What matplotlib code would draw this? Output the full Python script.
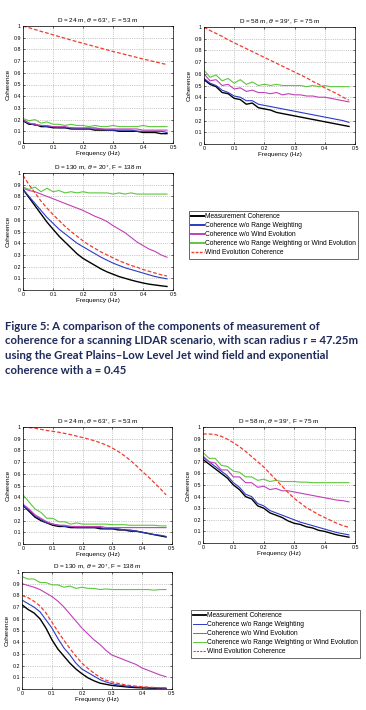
import matplotlib
matplotlib.use("Agg")
import matplotlib.pyplot as plt

W, H = 366, 710
plt.rcParams['font.family'] = ['Liberation Sans', 'DejaVu Sans']

# frequency grid (Hz)
freq = [0.00, 0.02, 0.04, 0.06, 0.08, 0.10, 0.12, 0.14, 0.16, 0.18, 0.20, 0.22, 0.24,
        0.26, 0.28, 0.30, 0.32, 0.34, 0.36, 0.38, 0.40, 0.42, 0.44, 0.46, 0.48]

labels = ["Measurement Coherence", "Coherence w/o Range Weighting",
          "Coherence w/o Wind Evolution",
          "Coherence w/o Range Weighting or Wind Evolution",
          "Wind Evolution Coherence"]
titles = ["D = 24 m, $\\theta$ = 63$^{\\circ}$, F = 53 m",
          "D = 58 m, $\\theta$ = 39$^{\\circ}$, F = 75 m",
          "D = 130 m, $\\theta$ = 20$^{\\circ}$, F = 138 m"]

# ---- first figure (top) ----
s1a_black = [0.19,0.16,0.16,0.14,0.14,0.13,0.13,0.13,0.12,0.12,0.12,0.12,0.11,0.11,0.11,0.11,0.10,0.10,0.10,0.10,0.09,0.09,0.09,0.08,0.08]
s1a_blue = [0.19,0.17,0.15,0.15,0.14,0.14,0.13,0.13,0.13,0.12,0.12,0.12,0.12,0.12,0.11,0.11,0.11,0.11,0.11,0.10,0.10,0.10,0.10,0.10,0.09]
s1a_mag = [0.20,0.17,0.16,0.15,0.15,0.14,0.14,0.14,0.13,0.13,0.13,0.13,0.13,0.12,0.12,0.12,0.12,0.12,0.12,0.12,0.11,0.11,0.11,0.11,0.11]
s1a_green = [0.21,0.19,0.20,0.17,0.18,0.16,0.16,0.15,0.16,0.15,0.15,0.14,0.15,0.14,0.14,0.15,0.14,0.14,0.14,0.14,0.15,0.14,0.14,0.14,0.14]
s1a_red = [1.0,0.985,0.97,0.954,0.94,0.925,0.91,0.895,0.88,0.866,0.852,0.838,0.824,0.81,0.796,0.782,0.77,0.757,0.744,0.731,0.718,0.706,0.694,0.682,0.67]

s1b_black = [0.55,0.51,0.49,0.44,0.43,0.39,0.38,0.34,0.35,0.31,0.30,0.29,0.27,0.26,0.25,0.24,0.23,0.22,0.21,0.20,0.19,0.18,0.17,0.16,0.15]
s1b_blue = [0.56,0.52,0.50,0.46,0.44,0.41,0.40,0.37,0.37,0.34,0.33,0.32,0.31,0.30,0.29,0.28,0.27,0.26,0.25,0.24,0.23,0.22,0.21,0.20,0.185]
s1b_mag = [0.60,0.54,0.55,0.50,0.51,0.47,0.48,0.45,0.46,0.44,0.44,0.43,0.44,0.42,0.43,0.42,0.42,0.41,0.41,0.40,0.40,0.39,0.38,0.37,0.36]
s1b_green = [0.63,0.57,0.59,0.54,0.56,0.52,0.55,0.51,0.53,0.50,0.51,0.50,0.51,0.50,0.50,0.50,0.50,0.49,0.50,0.49,0.50,0.49,0.49,0.49,0.49]
s1b_red = [1.0,0.97,0.945,0.92,0.89,0.865,0.84,0.815,0.79,0.765,0.74,0.715,0.69,0.665,0.64,0.615,0.59,0.565,0.535,0.51,0.48,0.455,0.43,0.40,0.375]

s1c_black = [0.86,0.79,0.72,0.65,0.58,0.52,0.46,0.41,0.36,0.31,0.27,0.24,0.21,0.18,0.155,0.135,0.115,0.10,0.085,0.072,0.06,0.05,0.043,0.036,0.03]
s1c_blue = [0.86,0.80,0.74,0.68,0.62,0.57,0.52,0.48,0.44,0.40,0.37,0.34,0.31,0.28,0.255,0.23,0.21,0.19,0.175,0.16,0.145,0.13,0.115,0.105,0.095]
s1c_mag = [0.87,0.85,0.84,0.82,0.80,0.78,0.76,0.74,0.72,0.70,0.68,0.655,0.63,0.61,0.585,0.55,0.52,0.49,0.45,0.41,0.38,0.35,0.33,0.30,0.28]
s1c_green = [0.88,0.86,0.88,0.84,0.87,0.84,0.85,0.83,0.84,0.83,0.84,0.83,0.83,0.83,0.83,0.82,0.83,0.82,0.83,0.82,0.82,0.82,0.82,0.82,0.82]
s1c_red = [0.98,0.90,0.83,0.76,0.70,0.645,0.595,0.545,0.50,0.46,0.42,0.385,0.355,0.325,0.30,0.275,0.25,0.23,0.21,0.195,0.175,0.16,0.145,0.13,0.12]

# ---- second figure (bottom) ----
s2a_black = [0.33,0.28,0.23,0.20,0.18,0.16,0.15,0.15,0.14,0.14,0.14,0.14,0.14,0.13,0.13,0.13,0.12,0.12,0.11,0.11,0.10,0.09,0.08,0.07,0.06]
s2a_blue = [0.33,0.29,0.24,0.21,0.18,0.17,0.16,0.15,0.15,0.14,0.14,0.14,0.14,0.14,0.13,0.13,0.13,0.12,0.12,0.11,0.10,0.09,0.08,0.075,0.065]
s2a_mag = [0.34,0.30,0.25,0.22,0.19,0.17,0.16,0.16,0.15,0.15,0.15,0.15,0.15,0.15,0.14,0.14,0.14,0.14,0.14,0.14,0.14,0.14,0.14,0.14,0.14]
s2a_green = [0.42,0.36,0.30,0.27,0.22,0.22,0.19,0.19,0.17,0.18,0.17,0.17,0.17,0.17,0.17,0.165,0.165,0.165,0.16,0.16,0.16,0.16,0.16,0.155,0.155]
s2a_red = [1.0,0.995,0.99,0.98,0.97,0.963,0.955,0.945,0.935,0.922,0.91,0.897,0.882,0.865,0.845,0.82,0.79,0.755,0.715,0.67,0.62,0.575,0.525,0.475,0.42]

s2b_black = [0.72,0.68,0.64,0.60,0.56,0.50,0.46,0.40,0.38,0.32,0.30,0.26,0.24,0.22,0.19,0.17,0.16,0.14,0.13,0.11,0.10,0.085,0.07,0.06,0.05]
s2b_blue = [0.74,0.70,0.66,0.62,0.58,0.52,0.48,0.42,0.40,0.34,0.32,0.28,0.26,0.24,0.22,0.20,0.18,0.165,0.15,0.135,0.12,0.105,0.09,0.08,0.07]
s2b_mag = [0.75,0.70,0.69,0.63,0.63,0.57,0.57,0.52,0.52,0.48,0.49,0.46,0.47,0.45,0.45,0.44,0.43,0.42,0.41,0.40,0.39,0.38,0.37,0.365,0.355]
s2b_green = [0.78,0.73,0.73,0.67,0.66,0.62,0.61,0.57,0.57,0.54,0.55,0.53,0.54,0.53,0.53,0.53,0.525,0.525,0.52,0.52,0.52,0.52,0.52,0.52,0.52]
s2b_red = [0.94,0.94,0.935,0.92,0.895,0.865,0.83,0.79,0.745,0.70,0.655,0.60,0.545,0.49,0.435,0.385,0.345,0.305,0.275,0.245,0.22,0.195,0.17,0.15,0.135]

s2c_black = [0.72,0.68,0.65,0.60,0.52,0.42,0.34,0.28,0.22,0.17,0.13,0.095,0.07,0.05,0.04,0.03,0.025,0.02,0.015,0.012,0.01,0.008,0.006,0.005,0.004]
s2c_blue = [0.76,0.73,0.70,0.66,0.59,0.52,0.43,0.35,0.29,0.22,0.17,0.14,0.11,0.08,0.06,0.045,0.035,0.028,0.022,0.018,0.015,0.012,0.01,0.008,0.007]
s2c_mag = [0.90,0.885,0.87,0.85,0.82,0.79,0.75,0.70,0.64,0.58,0.52,0.47,0.42,0.38,0.33,0.29,0.27,0.25,0.23,0.21,0.18,0.16,0.14,0.12,0.105]
s2c_green = [0.96,0.94,0.94,0.91,0.91,0.89,0.89,0.87,0.88,0.86,0.87,0.86,0.86,0.85,0.855,0.85,0.85,0.85,0.85,0.85,0.85,0.85,0.845,0.85,0.85]
s2c_red = [0.80,0.78,0.75,0.71,0.65,0.57,0.49,0.415,0.345,0.28,0.22,0.175,0.135,0.10,0.075,0.06,0.048,0.038,0.03,0.024,0.02,0.016,0.013,0.011,0.01]

caption = ["Figure 5: A comparison of the components of measurement of",
           "coherence for a scanning LIDAR scenario, with scan radius r = 47.25m",
           "using the Great Plains\u2013Low Level Jet wind field and exponential",
           "coherence with a = 0.45"]

colors = ['#000000', '#2b3bc4', '#c040b8', '#5cc83c', '#f03c2c']


def box(l, t, r, b):
    return [l / W, 1 - b / H, (r - l) / W, (b - t) / H]


def panel(rect, title, series):
    ax = fig.add_axes(box(*rect))
    for i, (vals, c) in enumerate(zip(series, colors)):
        if i == 4:
            ax.plot(freq, vals, color=c, lw=0.9, ls=(0, (3, 1.6)))
        else:
            ax.plot(freq, vals, color=c, lw=0.8 if i else 1.0)
    ax.set_xlim(0, 0.5)
    ax.set_ylim(0, 1)
    ax.set_xticks([0, 0.1, 0.2, 0.3, 0.4, 0.5])
    ax.set_xticklabels(['0', '0.1', '0.2', '0.3', '0.4', '0.5'])
    ax.set_yticks([i / 10 for i in range(11)])
    ax.set_yticklabels(['0'] + ['0.%d' % i for i in range(1, 10)] + ['1'])
    ax.tick_params(labelsize=3.8, length=1.5, width=0.4, direction='in', pad=1.5,
                   top=True, right=True)
    ax.grid(True, ls=':', lw=0.5, color='#999999')
    for s in ax.spines.values():
        s.set_linewidth(0.5)
    ax.set_title(title, fontsize=4.6, pad=2)
    ax.set_xlabel('Frequency (Hz)', fontsize=4.6, labelpad=1)
    ax.set_ylabel('Coherence', fontsize=4.6, labelpad=2)
    return ax


def legend_box(rect, widths):
    ax = fig.add_axes(box(*rect))
    ax.axis('off')
    handles = []
    for i, c in enumerate(colors):
        ls = (0, (2, 1)) if i == 4 else '-'
        h, = ax.plot([], [], color=c, lw=widths[i], ls=ls)
        handles.append(h)
    leg = ax.legend(handles, labels, loc='upper left', bbox_to_anchor=(0, 1),
                    borderaxespad=0, fontsize=4.75, frameon=True, fancybox=False,
                    handlelength=1.9, handletextpad=0.2, labelspacing=0.3,
                    borderpad=0.35)
    leg.get_frame().set_edgecolor('#222222')
    leg.get_frame().set_linewidth(0.6)


fig = plt.figure(figsize=(W / 100, H / 100), dpi=100)

panel((23, 26, 173, 143), titles[0], [s1a_black, s1a_blue, s1a_mag, s1a_green, s1a_red])
panel((204, 27, 355, 144), titles[1], [s1b_black, s1b_blue, s1b_mag, s1b_green, s1b_red])
panel((23, 173, 173, 290), titles[2], [s1c_black, s1c_blue, s1c_mag, s1c_green, s1c_red])
legend_box((189, 211, 360, 255), [1.4, 1.4, 1.4, 1.4, 1.0])

# caption: fit the widest line to the reference width
cap = []
for k, line in enumerate(caption):
    t = fig.text(5 / W, 1 - (326 + 14.7 * k) / H, line, fontsize=8.2, fontweight='bold',
                 color='#1f2a5a', va='center', ha='left', family=['Lato', 'DejaVu Sans'])
    cap.append(t)
renderer = fig.canvas.get_renderer()
wmax = max(t.get_window_extent(renderer).width for t in cap)
for t in cap:
    t.set_fontsize(8.2 * 353 / wmax)

panel((23, 427, 172, 544), titles[0], [s2a_black, s2a_blue, s2a_mag, s2a_green, s2a_red])
panel((203, 427, 355, 543), titles[1], [s2b_black, s2b_blue, s2b_mag, s2b_green, s2b_red])
panel((22, 572, 172, 689), titles[2], [s2c_black, s2c_blue, s2c_mag, s2c_green, s2c_red])
legend_box((191, 610, 362, 656), [1.3, 0.7, 0.7, 0.7, 0.8])

fig.savefig('out.png', dpi=100)
